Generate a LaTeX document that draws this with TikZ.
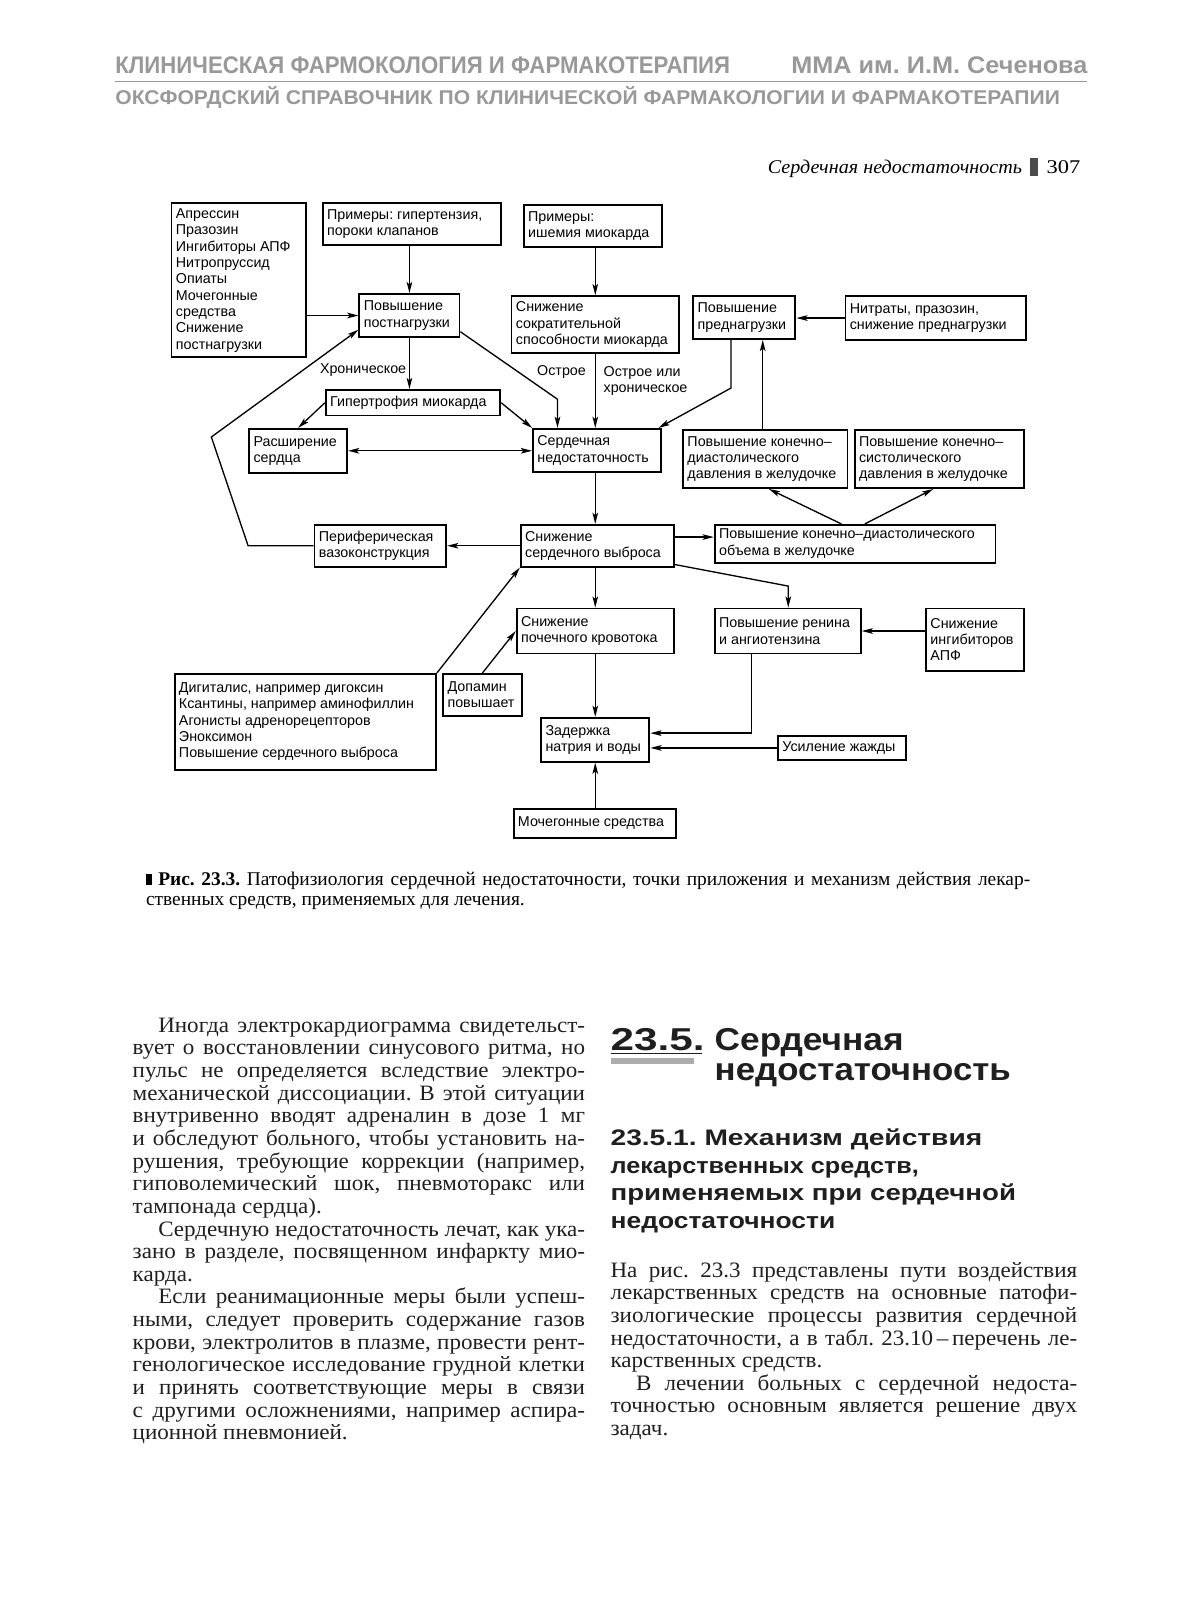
\documentclass[tikz,border=0pt]{standalone}
\usepackage{fontspec}
\usepackage{graphicx}
\setmainfont{Liberation Serif}
\newfontfamily\lsans{Liberation Sans}
\newfontfamily\bodyfont[FakeStretch=1.05]{Liberation Serif}
\usetikzlibrary{arrows.meta,fit,calc}
\definecolor{hdr}{gray}{0.6}
\definecolor{ink}{gray}{0.12}
\newcommand\wfit[2]{\resizebox{#1}{\height}{#2}}
\newcommand\bodyJ[1]{\noindent\makebox[\linewidth][s]{#1}\par}
\newcommand\bodyI[1]{\noindent\hspace*{25pt}\makebox[\dimexpr\linewidth-25pt\relax][s]{#1}\par}
\newcommand\bodyE[1]{\noindent #1\par}
\newcommand\bodyIE[1]{\noindent\hspace*{25pt}#1\par}
\newcommand\bx[4]{\node[box,fit={(#2) (#3)}] (#1) {};\node[dtxt,anchor=west] (#1t) at ([xshift=5pt]#1.west) {#4};}
\begin{document}
\frenchspacing
\begin{tikzpicture}[x=1pt,y=-1pt,
 box/.style={draw,line width=1.8pt,inner sep=0pt},
 dtxt/.style={font=\lsans\fontsize{14}{16}\selectfont,align=left,inner sep=0pt},
 arr/.style={line width=1.3pt,-{Stealth[length=11pt,width=5.5pt,inset=2.5pt]}},
 darr/.style={line width=1.3pt,{Stealth[length=11pt,width=5.5pt,inset=2.5pt]}-{Stealth[length=11pt,width=5.5pt,inset=2.5pt]}},
 lbl/.style={font=\lsans\fontsize{14}{16}\selectfont,align=left,inner sep=0pt},
 plain/.style={inner sep=0pt,outer sep=0pt}]
\fill[white] (0,0) rectangle (1170,1568);
\useasboundingbox (0,0) rectangle (1170,1568);

% ---------- running heads ----------
\node[plain,anchor=base west,text=hdr] (hd1) at (113,72) {\wfit{602pt}{\lsans\bfseries\fontsize{23.5}{28}\selectfont КЛИНИЧЕСКАЯ ФАРМОКОЛОГИЯ И ФАРМАКОТЕРАПИЯ}};
\node[plain,anchor=base west,text=hdr] (hd2) at (775,72) {\wfit{290pt}{\lsans\bfseries\fontsize{23.5}{28}\selectfont ММА им. И.М. Сеченова}};
\draw[hdr,line width=1.3pt] (113,80) -- (1065,80);
\node[plain,anchor=base west,text=hdr] (hd3) at (113,102) {\wfit{925pt}{\lsans\bfseries\fontsize{19.5}{24}\selectfont ОКСФОРДСКИЙ СПРАВОЧНИК ПО КЛИНИЧЕСКОЙ ФАРМАКОЛОГИИ И ФАРМАКОТЕРАПИИ}};
\node[plain,anchor=base west] (ph1) at (752,170) {\wfit{249pt}{\itshape\fontsize{19}{22}\selectfont Сердечная недостаточность}};
\fill[gray!60!black] (1009,155) rectangle (1017,172);
\node[plain,anchor=base west] (ph2) at (1025,170) {\wfit{33pt}{\fontsize{19}{22}\selectfont 307}};

% ---------- diagram boxes ----------
\bx{A}{168,199}{300,350}{Апрессин\\Празозин\\Ингибиторы АПФ\\Нитропруссид\\Опиаты\\Мочегонные\\средства\\Снижение\\постнагрузки}
\bx{B}{316,199}{491,240}{Примеры: гипертензия,\\пороки клапанов}
\bx{C}{513,201}{648,242}{Примеры:\\ишемия миокарда}
\bx{D}{352,288}{450,330}{Повышение\\постнагрузки}
\bx{E}{501,290}{665,346}{Снижение\\сократительной\\способности миокарда}
\bx{F}{679,290}{779,332}{Повышение\\преднагрузки}
\bx{G}{828,290}{1005,333}{Нитраты, празозин,\\снижение преднагрузки}
\bx{H}{319,382}{490,407}{Гипертрофия миокарда}
\bx{I}{244,420}{340,463}{Расширение\\сердца}
\bx{J}{522,420}{647,462}{Сердечная\\недостаточность}
\bx{K}{669,421}{830,478}{Повышение конечно–\\диастолического\\давления в желудочке}
\bx{L}{837,421}{1003,478}{Повышение конечно–\\систолического\\давления в желудочке}
\bx{M}{308,514}{437,555}{Периферическая\\вазоконструкция}
\bx{N}{510,514}{660,555}{Снижение\\сердечного выброса}
\bx{O}{700,514}{975,551}{Повышение конечно–диастолического\\объема в желудочке}
\bx{P}{506,596}{660,640}{Снижение\\почечного кровотока}
\bx{Q}{700,596}{843,640}{Повышение ренина\\и ангиотензина}
\bx{R}{907,596}{1003,657}{Снижение\\ингибиторов\\АПФ}
\bx{S}{171,660}{427,754}{Дигиталис, например дигоксин\\Ксантины, например аминофиллин\\Агонисты адренорецепторов\\Эноксимон\\Повышение сердечного выброса}
\bx{T}{434,660}{511,701}{Допамин\\повышает}
\bx{U}{530,703}{636,746}{Задержка\\натрия и воды}
\bx{V}{762,721}{887,744}{Усиление жажды}
\bx{W}{503,792}{662,821}{Мочегонные средства}

\node[lbl,anchor=east] (lchr) at (398,362) {Хроническое};
\node[lbl,anchor=east] (lac) at (574,364) {Острое};
\node[lbl,anchor=west] (lach) at (591,373) {Острое или\\хроническое};

% ---------- connectors ----------
\coordinate (sp) at (583,0);
\draw[arr] (B.south -| D.north) -- (D.north);
\draw[arr] (C.south -| sp) -- (E.north -| sp);
\draw[arr] (A.east |- D.west) -- (D.west);
\coordinate (lp1) at (243,534);
\coordinate (lp2) at (207,428);
\draw[arr] (M.west) -- (M.west -| lp1) -- (lp2) -- ([yshift=8pt]D.south west);
\draw[arr] (D.south) -- (D.south |- H.north);
\coordinate (dj) at (546,391);
\draw[arr] ([yshift=6pt]D.south east) -- (dj) -- (dj |- J.north);
\draw[arr] (E.south -| sp) -- (J.north -| sp);
\coordinate (fj) at (716,380);
\draw[arr] (F.south -| fj) -- (fj) -- ([xshift=-3pt]J.north east);
\coordinate (kf) at (747,0);
\draw[arr] (K.north -| kf) -- (F.south -| kf);
\draw[arr] (G.west) -- (F.east |- G.west);
\draw[arr] (H.west) -- (I.north);
\draw[arr] (H.east) -- (J.north west);
\draw[darr] (I.east) -- (I.east -| J.west);
\draw[arr] (J.south -| sp) -- (N.north -| sp);
\draw[arr] (N.west) -- (N.west -| M.east);
\coordinate (no) at (0,526);
\draw[arr] (N.east |- no) -- (O.west |- no);
\coordinate (ok1) at (824,0);
\coordinate (ok2) at (753,0);
\coordinate (ol1) at (847,0);
\coordinate (ol2) at (914,0);
\draw[arr] (O.north -| ok1) -- (K.south -| ok2);
\draw[arr] (O.north -| ol1) -- (L.south -| ol2);
\draw[arr] (N.south -| sp) -- (P.north -| sp);
\coordinate (nq) at (772,574);
\draw[arr] ([yshift=3pt]N.south east) -- (nq) -- (nq |- Q.north);
\draw[arr] (P.south -| sp) -- (U.north -| sp);
\coordinate (qu) at (736,718);
\draw[arr] (Q.south -| qu) -- (qu) -- (qu -| U.east);
\draw[arr] (V.west) -- (V.west -| U.east);
\draw[arr] (W.north -| sp) -- (U.south -| sp);
\draw[arr] (R.west |- Q.east) -- (Q.east);
\draw[arr] (S.north east) -- (N.south west);
\draw[arr] (T.north) -- (P.west);

% ---------- caption ----------
\node[plain,anchor=base west] (cap) at (143,867) {\parbox[t]{866pt}{\fontsize{19}{20}\selectfont\frenchspacing
\bodyJ{\rule{6pt}{11pt}\hspace{6pt}\textbf{Рис. 23.3.} Патофизиология сердечной недостаточности, точки приложения и механизм действия лекар-}
\bodyE{ственных средств, применяемых для лечения.}}};

% ---------- left column ----------
\node[plain,anchor=base west,text=ink] (colL) at (130,1011) {\parbox[t]{443pt}{\bodyfont\fontsize{21.5}{22.17}\selectfont\frenchspacing
\bodyI{Иногда электрокардиограмма свидетельст-}
\bodyJ{вует о восстановлении синусового ритма, но}
\bodyJ{пульс не определяется вследствие электро-}
\bodyJ{механической диссоциации. В этой ситуации}
\bodyJ{внутривенно вводят адреналин в дозе 1 мг}
\bodyJ{и обследуют больного, чтобы установить на-}
\bodyJ{рушения, требующие коррекции (например,}
\bodyJ{гиповолемический шок, пневмоторакс или}
\bodyE{тампонада сердца).}
\bodyI{Сердечную недостаточность лечат, как ука-}
\bodyJ{зано в разделе, посвященном инфаркту мио-}
\bodyE{карда.}
\bodyI{Если реанимационные меры были успеш-}
\bodyJ{ными, следует проверить содержание газов}
\bodyJ{крови, электролитов в плазме, провести рент-}
\bodyJ{генологическое исследование грудной клетки}
\bodyJ{и принять соответствующие меры в связи}
\bodyJ{с другими осложнениями, например аспира-}
\bodyE{ционной пневмонией.}}};

% ---------- right column headings ----------
\node[plain,anchor=base west,text=ink] (h235) at (598,1029) {\wfit{92pt}{\lsans\bfseries\fontsize{31}{36}\selectfont 23.5.}};
\draw[ink,line width=1.2pt] (598,1032) -- (688,1032);
\fill[gray!65] (598,1036) rectangle (680,1042);
\node[plain,anchor=base west,text=ink] (h2a) at (700,1029) {\wfit{185pt}{\lsans\bfseries\fontsize{31}{36}\selectfont Сердечная}};
\node[plain,anchor=base west,text=ink] (h2b) at (700,1058) {\wfit{290pt}{\lsans\bfseries\fontsize{31}{36}\selectfont недостаточность}};
\node[plain,anchor=base west,text=ink] (s1) at (598,1122) {\wfit{364pt}{\lsans\bfseries\fontsize{22}{27}\selectfont 23.5.1. Механизм действия}};
\node[plain,anchor=base west,text=ink] (s2) at (598,1149) {\wfit{302pt}{\lsans\bfseries\fontsize{22}{27}\selectfont лекарственных средств,}};
\node[plain,anchor=base west,text=ink] (s3) at (598,1176) {\wfit{397pt}{\lsans\bfseries\fontsize{22}{27}\selectfont применяемых при сердечной}};
\node[plain,anchor=base west,text=ink] (s4) at (598,1203) {\wfit{220pt}{\lsans\bfseries\fontsize{22}{27}\selectfont недостаточности}};

% ---------- right column text ----------
\node[plain,anchor=base west,text=ink] (colR) at (598,1251) {\parbox[t]{457pt}{\bodyfont\fontsize{21.5}{22.1}\selectfont\frenchspacing
\bodyJ{На рис. 23.3 представлены пути воздействия}
\bodyJ{лекарственных средств на основные патофи-}
\bodyJ{зиологические процессы развития сердечной}
\bodyJ{недостаточности, а в табл. 23.10\,–\,перечень ле-}
\bodyE{карственных средств.}
\bodyI{В лечении больных с сердечной недоста-}
\bodyJ{точностью основным является решение двух}
\bodyE{задач.}}};
\end{tikzpicture}
\end{document}
